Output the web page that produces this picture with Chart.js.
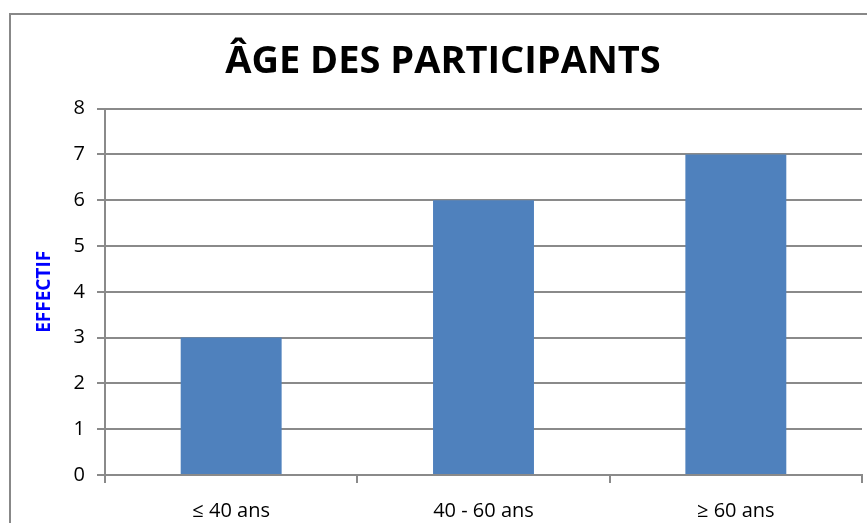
<!DOCTYPE html>
<html>
<head>
<meta charset="utf-8">
<script src="https://cdn.jsdelivr.net/npm/chart.js@4"></script>
<style>
  body { margin: 0; background: #fff; }
  .frame { position: absolute; left: 9px; top: 13px; width: 900px; height: 600px; border: 2px solid #888; }
  .wrap { position: absolute; left: 0; top: 0; width: 867px; height: 523px; }
</style>
</head>
<body>
<div class="frame"></div>
<div class="wrap"><canvas id="ageChart"></canvas></div>
<script>
const categories = ['≤ 40 ans', '40 - 60 ans', '≥ 60 ans'];
const effectif = [3, 6, 7];
const yTicks = [0, 1, 2, 3, 4, 5, 6, 7, 8];

const gridColor = '#8a8a8a';

const ctx = document.getElementById('ageChart').getContext('2d');
new Chart(ctx, {
    type: 'bar',
    data: {
        labels: categories,
        datasets: [{
            label: 'Effectif',
            data: effectif,
            backgroundColor: '#4F81BD',
            borderWidth: 0,
            barPercentage: 0.8,
            categoryPercentage: 0.5
        }]
    },
    options: {
        responsive: true,
        maintainAspectRatio: false,
        animation: false,
        layout: {
            padding: { left: 24, right: 5, top: 0, bottom: 0 }
        },
        plugins: {
            legend: { display: false },
            tooltip: { enabled: false },
            title: {
                display: true,
                text: 'ÂGE DES PARTICIPANTS',
                color: '#000',
                font: { family: 'Open Sans', size: 38, weight: 'bold' },
                padding: { top: 39, bottom: 24 }
            }
        },
        scales: {
            y: {
                min: 0,
                max: 8,
                afterBuildTicks: axis => { axis.ticks = yTicks.map(v => ({ value: v })); },
                afterFit: axis => { axis.width = 81; },
                border: { color: gridColor, width: 2 },
                grid: { color: gridColor, lineWidth: 2, tickLength: 8 },
                ticks: {
                    color: '#000',
                    padding: 12,
                    font: { family: 'Open Sans', size: 20 }
                },
                title: {
                    display: true,
                    text: 'EFFECTIF',
                    color: '#0000FF',
                    font: { family: 'Open Sans', size: 19, weight: 'bold' },
                    padding: { top: 9, bottom: 0 }
                }
            },
            x: {
                afterFit: axis => { axis.height = 48; },
                border: { color: gridColor, width: 2 },
                grid: { color: gridColor, lineWidth: 2, drawOnChartArea: false, tickLength: 8, offset: true },
                ticks: {
                    color: '#000',
                    padding: 16,
                    maxRotation: 0,
                    font: { family: 'Open Sans', size: 20 }
                }
            }
        }
    }
});
</script>
</body>
</html>
